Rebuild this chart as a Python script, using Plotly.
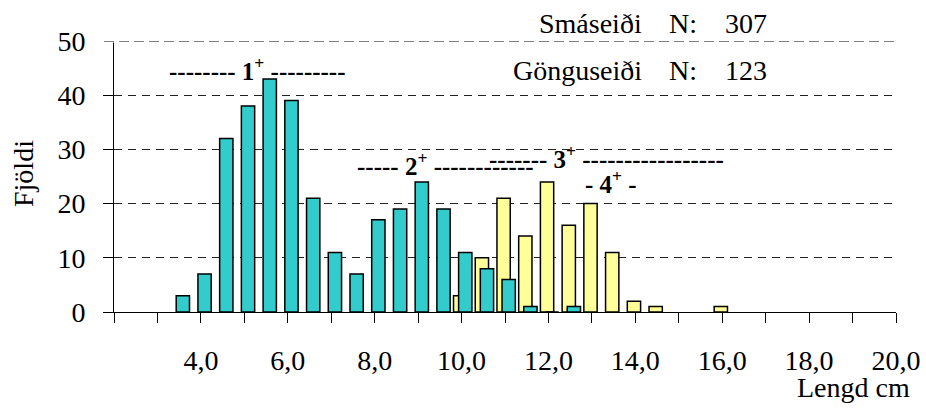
import plotly.graph_objects as go

# ---- data ----
smaseidi_len = [3.5, 4.0, 4.5, 5.0, 5.5, 6.0, 6.5, 7.0, 7.5, 8.0, 8.5, 9.0, 9.5,
                10.0, 10.5, 11.0, 11.5, 12.0, 12.5]
smaseidi_cnt = [3, 7, 32, 38, 43, 39, 21, 11, 7, 17, 19, 24, 19, 11, 8, 6, 1, 0, 1]

gonguseidi_len = [10.0, 10.5, 11.0, 11.5, 12.0, 12.5, 13.0, 13.5, 14.0, 14.5, 16.0]
gonguseidi_cnt = [3, 10, 21, 14, 24, 16, 20, 11, 2, 1, 1]

tick_vals = list(range(2, 21))
tick_text = ["" if (v % 2 or v == 2) else f"{v},0" for v in tick_vals]

# ---- geometry (pixels of the 926x417 canvas) ----
W, H = 926, 417
L, R = 114, 896
T, B = 41, 312
XMIN, XMAX, YMIN, YMAX = 2, 20, 0, 50


def px_x(px):
    return XMIN + (px - L) / (R - L) * (XMAX - XMIN)


def px_y(py):
    return YMIN + (B - py) / (B - T) * (YMAX - YMIN)


def pap_x(px):
    return (px - L) / (R - L)


def pap_y(py):
    return (B - py) / (B - T)


FONT = "Liberation Serif"
BW = 0.306

fig = go.Figure()
fig.add_trace(go.Bar(
    x=gonguseidi_len, y=gonguseidi_cnt, width=BW, offset=-0.032 - BW / 2,
    marker=dict(color="#FFFF99", line=dict(color="black", width=1.5)),
    name="Gönguseiði", showlegend=False))
fig.add_trace(go.Bar(
    x=smaseidi_len, y=smaseidi_cnt, width=BW, offset=0.085 - BW / 2,
    marker=dict(color="#33CCCC", line=dict(color="black", width=1.5)),
    name="Smáseiði", showlegend=False))

ann = []
bold = dict(family=FONT, size=25, color="black")
for txt, lx, cy in [
    ("--------" + " 1<sup>+</sup> " + "-" * 9, 167, 68.5),
    ("-----" + " 2<sup>+</sup> " + "-" * 12, 355, 164),
    ("-------" + " 3<sup>+</sup> " + "-" * 17, 487, 157),
    ("- 4<sup>+</sup> -", 583, 182),
]:
    ann.append(dict(text="<b>" + txt + "</b>", x=px_x(lx), y=px_y(cy), xref="x", yref="y",
                    xanchor="left", yanchor="middle", showarrow=False, font=bold))

reg = dict(family=FONT, size=28, color="black")
for lab, num, cy in [("Smáseiði", "307", 24), ("Gönguseiði", "123", 70)]:
    ann.append(dict(text=lab, x=pap_x(644), y=pap_y(cy), xref="paper", yref="paper",
                    xanchor="right", yanchor="middle", showarrow=False, font=reg))
    ann.append(dict(text="N:", x=pap_x(667), y=pap_y(cy), xref="paper", yref="paper",
                    xanchor="left", yanchor="middle", showarrow=False, font=reg))
    ann.append(dict(text=num, x=pap_x(723), y=pap_y(cy), xref="paper", yref="paper",
                    xanchor="left", yanchor="middle", showarrow=False, font=reg))

ann.append(dict(text="Fjöldi", x=pap_x(23), y=pap_y(174), xref="paper", yref="paper",
                xanchor="center", yanchor="middle", textangle=-90, showarrow=False, font=reg))
ann.append(dict(text="Lengd cm", x=pap_x(912), y=pap_y(387), xref="paper", yref="paper",
                xanchor="right", yanchor="middle", showarrow=False, font=reg))

# top (50) gridline is grey and heavier in the reference
shapes = [
    dict(type="line", xref="paper", yref="y", x0=pap_x(103), x1=pap_x(899), y0=YMAX, y1=YMAX,
         line=dict(color="white", width=3), layer="above"),
    dict(type="line", xref="paper", yref="y", x0=pap_x(104), x1=pap_x(898), y0=YMAX, y1=YMAX,
         line=dict(color="#808080", width=2, dash="10px,5px"), layer="above"),
]

fig.update_layout(
    width=W, height=H,
    margin=dict(l=L, r=W - R, t=T, b=H - B, pad=0, autoexpand=False),
    paper_bgcolor="white", plot_bgcolor="white",
    barmode="overlay",
    font=reg,
    annotations=ann,
    shapes=shapes,
    xaxis=dict(range=[XMIN, XMAX], tickvals=tick_vals, ticktext=tick_text,
               ticks="outside", ticklen=10, tickcolor="black", tickwidth=1,
               showline=True, linecolor="black", linewidth=1, showgrid=False,
               zeroline=False, ticklabelstandoff=13, tickfont=reg, automargin=False),
    yaxis=dict(range=[YMIN, YMAX], tickvals=[0, 10, 20, 30, 40, 50],
               ticks="outside", ticklen=10, tickcolor="black", tickwidth=1,
               showline=True, linecolor="black", linewidth=1,
               showgrid=True, gridcolor="#222222", gridwidth=1, griddash="8px,6px",
               zeroline=False, ticklabelstandoff=12, tickfont=reg, automargin=False),
)

fig.write_html("out.html", config={"displayModeBar": False},
               post_script="document.body.style.margin='0';")
